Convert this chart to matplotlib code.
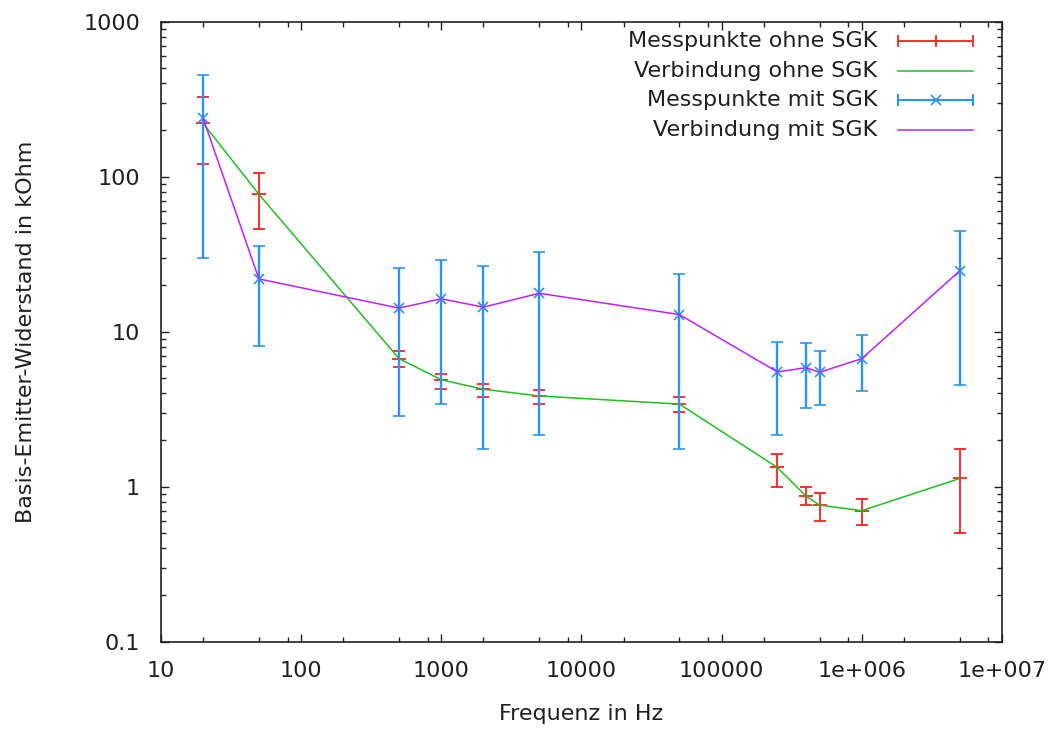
import numpy as np
import matplotlib
matplotlib.use("Agg")
import matplotlib.pyplot as plt
from matplotlib.ticker import FixedLocator, NullFormatter

# Messdaten (Frequenz in Hz, Widerstand in kOhm)
freq = [20, 50, 500, 1000, 2000, 5000, 50000, 250000, 400000, 500000, 1e6, 5e6]

# ohne SGK
r_ohne = [221, 77, 6.7, 4.9, 4.25, 3.85, 3.41, 1.33, 0.87, 0.76, 0.70, 1.13]
r_ohne_hi = [325, 106, 7.5, 5.3, 4.6, 4.2, 3.78, 1.63, 1.0, 0.91, 0.83, 1.75]
r_ohne_lo = [120, 46, 5.9, 4.3, 3.8, 3.4, 3.05, 1.0, 0.76, 0.60, 0.57, 0.50]

# mit SGK
r_mit = [238, 21.9, 14.2, 16.3, 14.4, 17.7, 12.9, 5.5, 5.86, 5.47, 6.7, 24.7]
r_mit_hi = [451, 35.7, 25.9, 29, 26.5, 32.5, 23.5, 8.6, 8.4, 7.5, 9.5, 44.9]
r_mit_lo = [29.8, 8.1, 2.86, 3.43, 1.75, 2.15, 1.75, 2.15, 3.2, 3.37, 4.14, 4.55]

x_ticks = [10, 100, 1000, 10000, 100000, 1e6, 1e7]
x_labels = ["10", "100", "1000", "10000", "100000", "1e+006", "1e+007"]
y_ticks = [0.1, 1, 10, 100, 1000]
y_labels = ["0.1", "1", "10", "100", "1000"]

legend_labels = ["Messpunkte ohne SGK", "Verbindung ohne SGK",
                 "Messpunkte mit SGK", "Verbindung mit SGK"]

RED = "#ff2020"
GREEN = "#20c020"
BLUE = "#2b95f5"
PURPLE = "#c020ff"

plt.rcParams["font.family"] = ["DejaVu Sans"]
plt.rcParams["font.size"] = 16

fig = plt.figure(figsize=(10.54, 7.31), dpi=100)
ax = fig.add_axes([0.1527, 0.1222, 0.7979, 0.8481])

f = np.array(freq)
ro = np.array(r_ohne)
rm = np.array(r_mit)
err_o = [ro - np.array(r_ohne_lo), np.array(r_ohne_hi) - ro]
err_m = [rm - np.array(r_mit_lo), np.array(r_mit_hi) - rm]

ax.errorbar(f, ro, yerr=err_o, fmt="_", color=RED, ms=10, mew=1.3,
            elinewidth=1.3, capsize=4, capthick=1.3, zorder=2)
ax.plot(f, ro, color=GREEN, lw=1.1, zorder=3)
ax.errorbar(f, rm, yerr=err_m, fmt="x", color=BLUE, ms=7, mew=1.2,
            elinewidth=1.7, capsize=4, capthick=1.7, zorder=4)
ax.plot(f, rm, color=PURPLE, lw=1.1, zorder=5)

ax.set_xscale("log")
ax.set_yscale("log")
ax.set_xlim(10, 1e7)
ax.set_ylim(0.1, 1000)

ax.xaxis.set_major_locator(FixedLocator(x_ticks))
ax.set_xticklabels(x_labels)
ax.xaxis.set_minor_locator(FixedLocator(
    [d * m for d in [10, 100, 1000, 1e4, 1e5, 1e6] for m in (2, 5, 8)]))
ax.xaxis.set_minor_formatter(NullFormatter())
ax.yaxis.set_major_locator(FixedLocator(y_ticks))
ax.set_yticklabels(y_labels)
ax.yaxis.set_minor_locator(FixedLocator(
    [d * m for d in [0.1, 1, 10, 100] for m in range(2, 10)]))
ax.yaxis.set_minor_formatter(NullFormatter())

ax.tick_params(which="both", direction="in", top=True, right=True,
               width=1.0, colors="#202020", labelcolor="#202020")
ax.tick_params(which="major", length=6)
ax.tick_params(which="minor", length=3.5)
ax.tick_params(axis="y", which="major", pad=15)
ax.tick_params(axis="x", which="major", pad=14)
for s in ax.spines.values():
    s.set_linewidth(1.2)
    s.set_color("#202020")

ax.set_xlabel("Frequenz in Hz", color="#202020")
ax.set_ylabel("Basis-Emitter-Widerstand in kOhm", color="#202020")
ax.xaxis.set_label_coords(0.5, -0.100)
ax.yaxis.set_label_coords(-0.148, 0.5)

# Legende im gnuplot-Stil
rows = [0.969, 0.921, 0.873, 0.826]
x0, x1, xt = 0.877, 0.966, 0.852
tr = ax.transAxes
for y, lab in zip(rows, legend_labels):
    ax.text(xt, y, lab, transform=tr, ha="right", va="center", color="#202020")
ax.plot([x0, x1], [rows[0]] * 2, color=RED, lw=1.3, transform=tr)
ax.plot([x0, x1], [rows[0]] * 2, ls="none", marker="|", ms=9, mew=1.3,
        color=RED, transform=tr)
ax.plot([(x0 + x1) / 2], [rows[0]], ls="none", marker="|", ms=9, mew=1.3,
        color=RED, transform=tr)
ax.plot([x0, x1], [rows[1]] * 2, color=GREEN, lw=1.1, transform=tr)
ax.plot([x0, x1], [rows[2]] * 2, color=BLUE, lw=1.5, transform=tr)
ax.plot([x0, x1], [rows[2]] * 2, ls="none", marker="|", ms=9, mew=1.5,
        color=BLUE, transform=tr)
ax.plot([(x0 + x1) / 2], [rows[2]], ls="none", marker="x", ms=7, mew=1.2,
        color=BLUE, transform=tr)
ax.plot([x0, x1], [rows[3]] * 2, color=PURPLE, lw=1.1, transform=tr)

fig.savefig("out.png", dpi=100)
